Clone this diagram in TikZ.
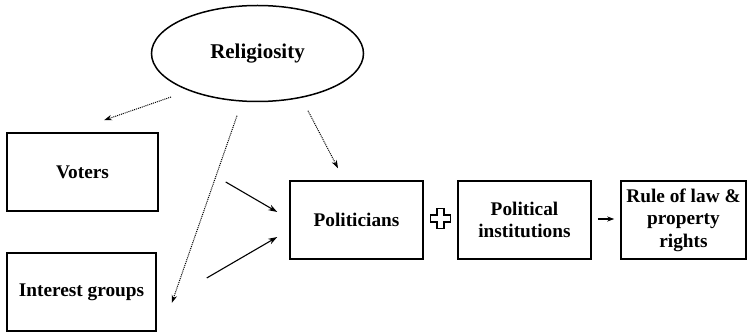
\documentclass[tikz,border=0pt]{standalone}
\usepackage{fontspec}
\setmainfont{Liberation Serif}
\usetikzlibrary{arrows.meta,calc,shapes.geometric}

\begin{document}
\begin{tikzpicture}[x=1pt, y=-1pt,
    box/.style={draw, line width=1.5pt, minimum height=78pt, inner sep=0pt,
      align=center, font=\bfseries\fontsize{19.3}{22.5}\selectfont},
    link/.style={line width=1.1pt, -{Stealth[length=9pt,width=6pt]}},
    hint/.style={line width=1pt, densely dotted, -{Stealth[length=8pt,width=5.5pt]}}]
    \useasboundingbox (0, 0) rectangle (748, 336) ;
    \node[draw, ellipse, line width=1.5pt, minimum width=212pt, minimum height=96pt,
      font=\bfseries\fontsize{21}{24}\selectfont] (religiosity) at (257.5, 53.5) {Religiosity} ;
    \node[box, minimum width=151pt] (voters) at (82.5, 172) {Voters} ;
    \node[box, minimum width=149pt] (interest) at (81.5, 292) {Interest groups} ;
    \node[box, minimum width=133pt] (politicians) at (356.5, 220) {Politicians} ;
    \node[box, minimum width=133pt] (institutions) at (524.5, 220) {Political\\institutions} ;
    \node[box, minimum width=125pt] (rule) at (683.5, 220) {Rule of law \&\\property\\rights} ;
%    the plus between the two boxes
    \coordinate (plus) at ($(politicians.east)!0.5!(institutions.west) + (0, -1.5)$) ;
    \draw[line width=1.5pt, fill=white] (plus) ++ (-3.5, -10) -- ++ (7, 0) -- ++ (0, 6.5)
      -- ++ (6.5, 0) -- ++ (0, 7) -- ++ (-6.5, 0) -- ++ (0, 6.5) -- ++ (-7, 0)
      -- ++ (0, -6.5) -- ++ (-6.5, 0) -- ++ (0, -7) -- ++ (6.5, 0) -- cycle ;
    \draw[hint] ([shift={(-86.5, 43.5)}]religiosity.center) -- ([shift={(21.5, -12)}]voters.north) ;
    \draw[hint] ([shift={(-20.5, 13.5)}]religiosity.south) -- ([shift={(15, 11)}]interest.east) ;
    \draw[hint] ([shift={(50.5, 8.5)}]religiosity.south) -- ([shift={(-18.5, -12)}]politicians.north) ;
    \draw[link] ([shift={(67, 10)}]voters.east) -- ([shift={(-12, -8)}]politicians.west) ;
    \draw[link] ([shift={(50, -14)}]interest.east) -- ([shift={(-12, 17)}]politicians.west) ;
    \draw[link, -{Stealth[length=7pt,width=5pt]}] ([shift={(6, -1)}]institutions.east) -- ([shift={(-6, -1)}]rule.west) ;
  \end{tikzpicture}
\end{document}
